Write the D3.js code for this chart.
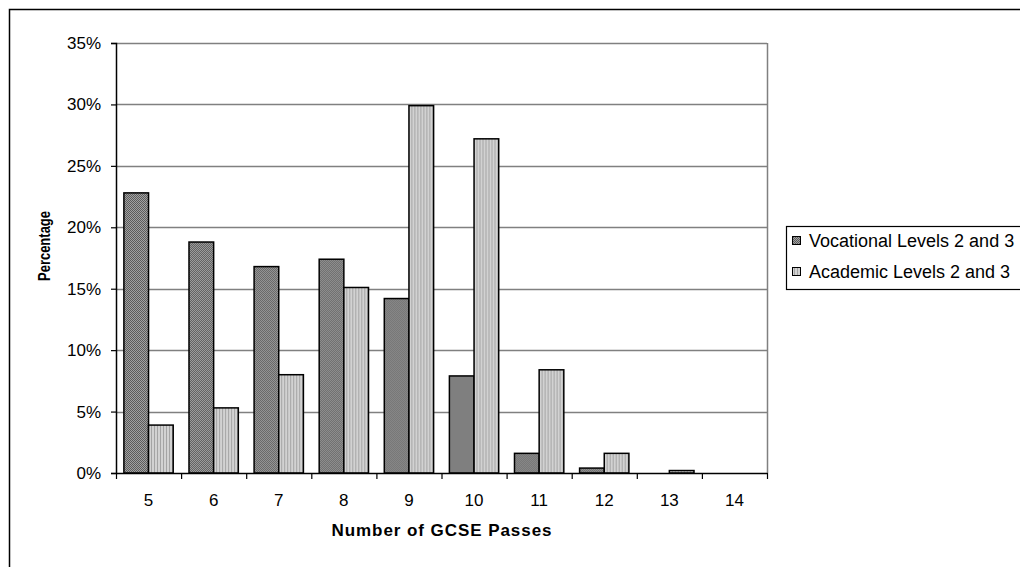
<!DOCTYPE html>
<html>
<head>
<meta charset="utf-8">
<script src="https://cdn.jsdelivr.net/npm/d3@7"></script>
<style>
  html, body { margin: 0; padding: 0; background: #fff; }
  svg { display: block; font-family: "Liberation Sans", Arial, sans-serif; }
</style>
</head>
<body>
<svg id="chart" width="1020" height="567"></svg>
<script>
// Number of GCSE passes and share of students (%) in each pathway
const categories = ["5", "6", "7", "8", "9", "10", "11", "12", "13", "14"];
const vocational = [22.8, 18.8, 16.8, 17.4, 14.2, 7.9, 1.6, 0.4, 0, 0];
const academic = [3.9, 5.3, 8.0, 15.1, 29.9, 27.2, 8.4, 1.6, 0.2, 0];
const seriesNames = ["Vocational Levels 2 and 3", "Academic Levels 2 and 3"];
const yTicks = [0, 5, 10, 15, 20, 25, 30, 35];

const svg = d3.select("#chart");
const plot = { left: 116, right: 767, top: 43, bottom: 473 };
const FONT = "Liberation Sans, Arial, sans-serif";

// Fill patterns for the two series
const defs = svg.append("defs");
const pv = defs.append("pattern").attr("id", "patVoc")
  .attr("patternUnits", "userSpaceOnUse").attr("width", 2).attr("height", 2);
pv.append("rect").attr("width", 2).attr("height", 2).attr("fill", "#a2a2a2");
pv.append("rect").attr("width", 1).attr("height", 1).attr("fill", "#5c5c5c");
pv.append("rect").attr("x", 1).attr("y", 1).attr("width", 1).attr("height", 1).attr("fill", "#5c5c5c");

const pa = defs.append("pattern").attr("id", "patAca")
  .attr("patternUnits", "userSpaceOnUse").attr("width", 3).attr("height", 3);
pa.append("rect").attr("width", 3).attr("height", 3).attr("fill", "#d2d2d2");
pa.append("rect").attr("x", 2).attr("width", 1).attr("height", 3).attr("fill", "#a4a4a4");

const fills = ["url(#patVoc)", "url(#patAca)"];

// Outer frame
svg.append("rect").attr("x", 9.5).attr("y", 9.5).attr("width", 1030).attr("height", 600)
  .attr("fill", "none").attr("stroke", "#000").attr("stroke-width", 1.5);

const x = d3.scaleBand().domain(categories).range([plot.left, plot.right]).paddingInner(0).paddingOuter(0);
const xInner = d3.scaleBand().domain([0, 1]).range([0, x.bandwidth()]).paddingInner(0).paddingOuter(0.32);
const y = d3.scaleLinear().domain([0, 35]).range([plot.bottom, plot.top]);

// Gridlines
svg.append("g").selectAll("line").data(yTicks.filter(d => d > 0)).join("line")
  .attr("x1", plot.left).attr("x2", plot.right)
  .attr("y1", d => Math.round(y(d)) + 0.5).attr("y2", d => Math.round(y(d)) + 0.5)
  .attr("stroke", "#808080").attr("stroke-width", 1.5);

// Right border of the plot area
svg.append("line").attr("x1", plot.right + 0.5).attr("x2", plot.right + 0.5)
  .attr("y1", plot.top).attr("y2", plot.bottom)
  .attr("stroke", "#808080").attr("stroke-width", 1.5);

// Bars
const groups = svg.append("g").selectAll("g").data(categories).join("g")
  .attr("transform", d => `translate(${x(d)},0)`);
groups.selectAll("rect")
  .data((d, i) => [vocational[i], academic[i]].map((v, s) => ({ v, s })))
  .join("rect")
  .filter(d => d.v > 0)
  .attr("x", d => xInner(d.s))
  .attr("width", xInner.bandwidth())
  .attr("y", d => y(d.v))
  .attr("height", d => y(0) - y(d.v))
  .attr("fill", d => fills[d.s])
  .attr("stroke", "#000").attr("stroke-width", 1.5);

// Y axis
const yAxis = d3.axisLeft(y).tickValues(yTicks).tickFormat(d => d + "%").tickSizeOuter(0).tickSize(5).tickPadding(10);
const gy = svg.append("g").attr("transform", `translate(${plot.left},0)`).call(yAxis);
gy.select(".domain").attr("stroke", "#000").attr("stroke-width", 1.5);
gy.selectAll(".tick line").attr("stroke", "#000").attr("stroke-width", 1.2);
gy.selectAll(".tick text").attr("font-size", 17).attr("fill", "#000").attr("font-family", FONT);

// X axis
const xAxis = d3.axisBottom(x).tickSize(0).tickPadding(21);
const gx = svg.append("g").attr("transform", `translate(0,${plot.bottom})`).call(xAxis);
gx.select(".domain").attr("stroke", "#000").attr("stroke-width", 1.5);
gx.selectAll(".tick text").attr("font-size", 17).attr("fill", "#000").attr("font-family", FONT);
// Category separator ticks
gx.append("g").selectAll("line").data(categories.concat(["end"])).join("line")
  .attr("x1", (d, i) => plot.left + i * x.step() + 0.5)
  .attr("x2", (d, i) => plot.left + i * x.step() + 0.5)
  .attr("y1", 0).attr("y2", 6)
  .attr("stroke", "#000").attr("stroke-width", 1.2);

// Axis titles
svg.append("text").attr("x", (plot.left + plot.right) / 2).attr("y", 536)
  .attr("text-anchor", "middle").attr("font-size", 17).attr("font-weight", "bold")
  .attr("textLength", 220).attr("lengthAdjust", "spacing")
  .text("Number of GCSE Passes");
svg.append("text").attr("transform", "translate(50,246) rotate(-90)")
  .attr("text-anchor", "middle").attr("font-size", 16).attr("font-weight", "bold")
  .attr("textLength", 70).attr("lengthAdjust", "spacingAndGlyphs")
  .text("Percentage");

// Legend
const lg = svg.append("g").attr("transform", "translate(786,226)");
lg.append("rect").attr("x", 0.5).attr("y", 0.5).attr("width", 300).attr("height", 63)
  .attr("fill", "#fff").attr("stroke", "#000").attr("stroke-width", 1.2);
seriesNames.forEach((name, i) => {
  const row = lg.append("g").attr("transform", `translate(0,${16 + i * 31})`);
  row.append("rect").attr("x", 6.5).attr("y", -5.5).attr("width", 8).attr("height", 8)
    .attr("fill", fills[i]).attr("stroke", "#000").attr("stroke-width", 1);
  row.append("text").attr("x", 23).attr("y", 5).attr("font-size", 18).attr("fill", "#000")
    .text(name);
});
</script>
</body>
</html>
